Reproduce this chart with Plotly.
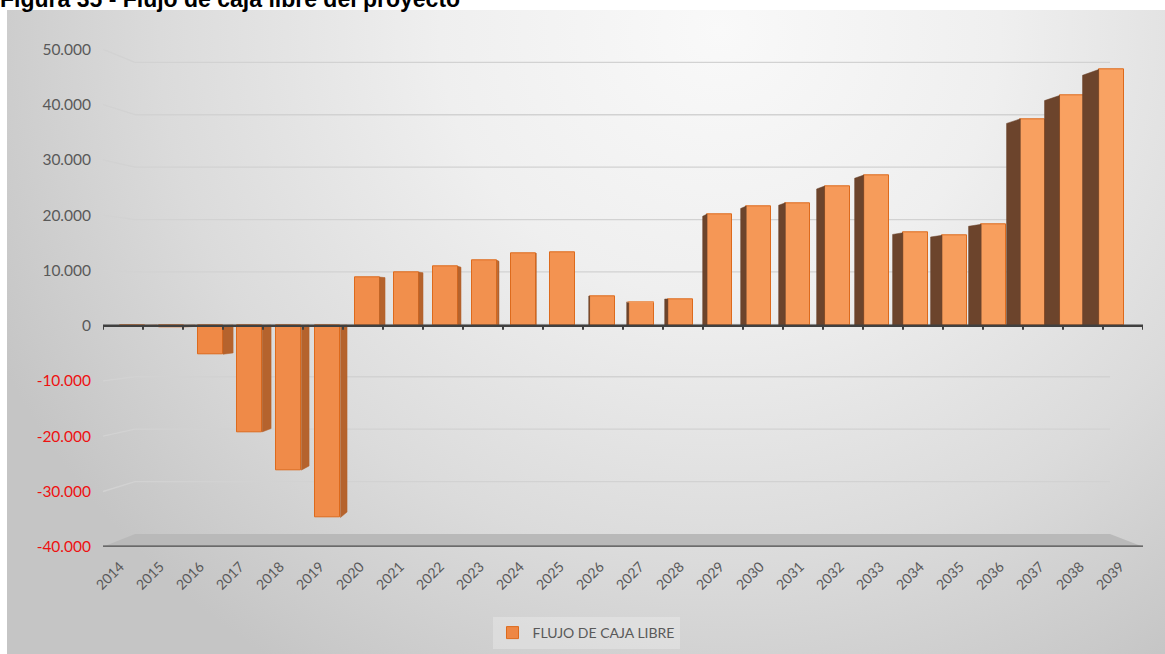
import numpy as np
import plotly.graph_objects as go

# ---- data -------------------------------------------------------------
YEARS = [str(y) for y in range(2014, 2040)]
FLUJO = [-150, -250, -5170, -19210, -26130, -34700,
         8800, 9700, 10740, 11820, 13140, 13320,
         5370, 4280, 4830, 20190, 21630, 22230,
         25250, 27240, 16810, 16340, 18330, 37410,
         41640, 46340]
Y_TICKS = [-40000, -30000, -20000, -10000, 0, 10000, 20000, 30000, 40000, 50000]
SERIES_NAME = "FLUJO DE CAJA LIBRE"
TITLE = "Figura 35 - Flujo de caja libre del proyecto"

# ---- canvas / plot-area geometry (pixels) ----------------------------
W, H = 1165, 654
PX_LEFT, PX_RIGHT = 103, 1143          # front edge of the category axis
PX_YTOP, PX_YBOT = 49.3, 546.8         # y of 50.000 and -40.000
Y_MIN, Y_MAX = Y_TICKS[0], Y_TICKS[-1]
n = len(YEARS)
X_MIN, X_MAX = -0.5, n - 0.5


def px_to_x(px):
    return X_MIN + (px - PX_LEFT) / (PX_RIGHT - PX_LEFT) * (X_MAX - X_MIN)


def px_to_y(py):
    return Y_MAX - (py - PX_YTOP) / (PX_YBOT - PX_YTOP) * (Y_MAX - Y_MIN)


# perspective settings for the pseudo-3D look
VX_BAR, VY = px_to_x(560), px_to_y(300)
VX_WALL = px_to_x(615)
FRONT_SHIFT = 0.979          # bar front plane slightly behind axis plane
BAR_W = 0.625
RX_BAR, RY_BAR = 0.97, 0.975
RX_WALL, RY_WALL = 0.9375, 0.948


def bar_back_x(x):
    return VX_BAR + RX_BAR * (x - VX_BAR)


def bar_back_y(y):
    return VY + RY_BAR * (y - VY)


def wall_x(x):
    return VX_WALL + RX_WALL * (x - VX_WALL)


def wall_y(y):
    return VY + RY_WALL * (y - VY)


vals = np.array(FLUJO, dtype=float)
idx = np.arange(n)
xc = VX_BAR + FRONT_SHIFT * (idx - VX_BAR)
xl, xr = xc - BAR_W / 2, xc + BAR_W / 2


def lerp_color(c0, c1, t):
    a = np.array([int(c0[i:i + 2], 16) for i in (1, 3, 5)])
    b = np.array([int(c1[i:i + 2], 16) for i in (1, 3, 5)])
    c = np.round(a + (b - a) * t).astype(int)
    return "#%02x%02x%02x" % tuple(c)


front_colors = [lerp_color("#ee8744", "#f9a262", i / (n - 1)) for i in idx]

# side and top faces of each column
side_r = ([], [])   # columns left of the vanishing point: right face visible
side_l = ([], [])   # columns right of the vanishing point: left face visible
top_f = ([], [])
for i in range(n):
    v = vals[i]
    if xr[i] < VX_BAR:
        e, tgt = xr[i], side_r
    elif xl[i] > VX_BAR:
        e, tgt = xl[i], side_l
    else:
        e, tgt = None, None
    if e is not None:
        tgt[0].extend([e, e, bar_back_x(e), bar_back_x(e), e, None])
        tgt[1].extend([0, v, bar_back_y(v), bar_back_y(0), 0, None])
    t = max(v, 0.0)
    if t < VY:
        top_f[0].extend([xl[i], xr[i], bar_back_x(xr[i]), bar_back_x(xl[i]), xl[i], None])
        top_f[1].extend([t, t, bar_back_y(t), bar_back_y(t), t, None])

fig = go.Figure()

# chart-area background (soft radial shading)
cx, cy, ax_, ay_ = 720, 30, 800, 760
fig.add_trace(go.Scatter(
    x=[cx - ax_, cx + ax_, cx + ax_, cx - ax_, cx - ax_],
    y=[cy - ay_, cy - ay_, cy + ay_, cy + ay_, cy - ay_],
    mode="lines", line=dict(width=0), fill="toself",
    fillgradient=dict(type="radial",
                      colorscale=[[0, "#f9f9f9"], [0.35, "#efefef"],
                                  [0.7, "#dbdbdb"], [1, "#c5c5c5"]]),
    hoverinfo="skip", showlegend=False, xaxis="x", yaxis="y"))

# front faces of the columns
fig.add_trace(go.Bar(
    x=xc, y=vals, width=BAR_W, name=SERIES_NAME,
    marker=dict(color=front_colors, line=dict(color="#dd6a1c", width=1)),
    hoverinfo="skip", showlegend=True, xaxis="x2", yaxis="y2"))

for (sx, sy), col in ((side_r, "#b5632d"), (side_l, "#6c442c"), (top_f, "#f6b07c")):
    fig.add_trace(go.Scatter(
        x=sx, y=sy, mode="lines", fill="toself", fillcolor=col,
        line=dict(color=col, width=0.5), hoverinfo="skip",
        showlegend=False, xaxis="x2", yaxis="y2"))

shapes = []
# back-wall and side-wall gridlines
for v in Y_TICKS[1:]:
    shapes.append(dict(type="line", xref="x2", yref="y2", layer="below",
                       x0=X_MIN, y0=v, x1=wall_x(X_MIN), y1=wall_y(v),
                       line=dict(color="#d2d2d2", width=1.3)))
    shapes.append(dict(type="line", xref="x2", yref="y2", layer="below",
                       x0=wall_x(X_MIN), y0=wall_y(v), x1=wall_x(X_MAX), y1=wall_y(v),
                       line=dict(color="#d2d2d2", width=1.3)))
# floor
fb = wall_y(Y_MIN)
shapes.append(dict(type="path", xref="x2", yref="y2", layer="below",
                   path=f"M{X_MIN},{Y_MIN} L{wall_x(X_MIN)},{fb} L{wall_x(X_MAX)},{fb} "
                        f"L{X_MAX},{Y_MIN} Z",
                   fillcolor="#b9b9b9", line=dict(width=0)))
shapes.append(dict(type="line", xref="x2", yref="y2", layer="below",
                   x0=X_MIN, y0=Y_MIN, x1=X_MAX, y1=Y_MIN,
                   line=dict(color="#4d4d4d", width=2.5)))
# horizontal axis at zero with tick marks between categories
tick_len = 4 * (Y_MAX - Y_MIN) / (PX_YBOT - PX_YTOP)
shapes.append(dict(type="line", xref="x2", yref="y2", layer="above",
                   x0=X_MIN, y0=0, x1=X_MAX, y1=0,
                   line=dict(color="#404040", width=2.5)))
for j in range(n + 1):
    shapes.append(dict(type="line", xref="x2", yref="y2", layer="above",
                       x0=X_MIN + j, y0=0, x1=X_MIN + j, y1=-tick_len,
                       line=dict(color="#404040", width=2)))


def fmt(v):
    s = f"{v:,}".replace(",", ".")
    return f"<span style='color:#ee1111'>{s}</span>" if v < 0 else s


FONT = "Lato"
fig.update_layout(
    width=W, height=H, margin=dict(l=0, r=0, t=0, b=0, autoexpand=False),
    paper_bgcolor="white", plot_bgcolor="rgba(0,0,0,0)",
    bargap=0, shapes=shapes,
    xaxis=dict(domain=[7 / W, 1], range=[7, W], visible=False, fixedrange=True),
    yaxis=dict(domain=[0, (H - 10) / H], range=[H, 10], visible=False, fixedrange=True),
    xaxis2=dict(domain=[PX_LEFT / W, PX_RIGHT / W], range=[X_MIN, X_MAX], anchor="y2",
                tickvals=list(idx), ticktext=YEARS, tickangle=-45,
                showgrid=False, zeroline=False, showline=False, ticks="",
                ticklabelstandoff=8, ticklabelshift=-3, automargin=False,
                tickfont=dict(family=FONT, size=14, color="#595959")),
    yaxis2=dict(domain=[(H - PX_YBOT) / H, (H - PX_YTOP) / H], range=[Y_MIN, Y_MAX],
                anchor="x2", tickvals=Y_TICKS, ticktext=[fmt(v) for v in Y_TICKS],
                showgrid=False, zeroline=False, showline=False, ticks="",
                ticklabelstandoff=11, automargin=False,
                tickfont=dict(family=FONT, size=15.5, color="#595959")),
    legend=dict(x=586 / W, xanchor="center", y=(H - 633) / H, yanchor="middle",
                orientation="h", bgcolor="rgba(255,255,255,0.25)",
                font=dict(family=FONT, size=14, color="#595959")),
    annotations=[dict(text=f"<b>{TITLE}</b>", xref="paper", yref="paper",
                      x=-0.002, y=1 + 16 / H, xanchor="left", yanchor="top",
                      showarrow=False,
                      font=dict(family="Liberation Sans", size=23, color="black"))],
)

# the page body keeps no margin so the figure fills the window exactly
fig.write_html("out.html",
               post_script="document.body.style.margin='0';"
                           "document.documentElement.style.margin='0';")
